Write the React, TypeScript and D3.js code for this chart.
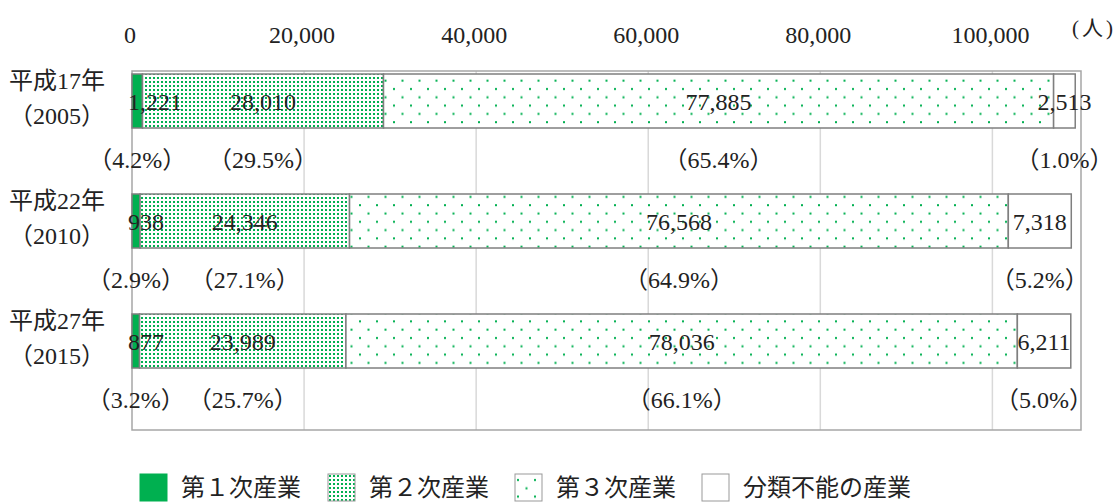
import React, { useRef, useEffect } from 'react';
import * as d3 from 'd3';

const eras = ['平成17年', '平成22年', '平成27年'];
const years = ['（2005）', '（2010）', '（2015）'];
const primary = [1221, 938, 877];
const secondary = [28010, 24346, 23989];
const tertiary = [77885, 76568, 78036];
const unclassified = [2513, 7318, 6211];
const shares = [
  ['4.2%', '29.5%', '65.4%', '1.0%'],
  ['2.9%', '27.1%', '64.9%', '5.2%'],
  ['3.2%', '25.7%', '66.1%', '5.0%'],
];
const xTicks = [0, 20000, 40000, 60000, 80000, 100000];
const legendNames = ['第１次産業', '第２次産業', '第３次産業', '分類不能の産業'];

const W = 1117;
const H = 502;
const GREEN = '#00b050';
const FONT = '"Liberation Serif", "DejaVu Serif", "Noto Sans CJK JP", serif';
const INK = '#222';

const App = () => {
  const ref = useRef<SVGSVGElement>(null);

  useEffect(() => {
    const svg = d3.select(ref.current);
    svg.selectAll('*').remove();

    const left = 132, right = 1081, top = 71, bottom = 430;
    const barH = 54;

    const x = d3.scaleLinear().domain([0, 110300]).range([left, right]);
    // one 120px step per year, bar sits 33px into its step
    const y = d3.scaleBand().domain(eras).range([41, 401]).padding(0);

    const defs = svg.append('defs');
    const p2 = defs.append('pattern').attr('id', 'dense').attr('patternUnits', 'userSpaceOnUse')
      .attr('width', 4).attr('height', 4);
    p2.append('rect').attr('width', 4).attr('height', 4).attr('fill', '#fff');
    p2.append('rect').attr('x', 1).attr('y', 1).attr('width', 2).attr('height', 2).attr('fill', GREEN);

    const p3 = defs.append('pattern').attr('id', 'sparse').attr('patternUnits', 'userSpaceOnUse')
      .attr('width', 17).attr('height', 16.6);
    p3.append('rect').attr('width', 17).attr('height', 16.6).attr('fill', '#fff');
    p3.append('rect').attr('x', 2).attr('y', 5).attr('width', 2).attr('height', 2).attr('fill', GREEN);
    p3.append('rect').attr('x', 10.5).attr('y', 13.3).attr('width', 2).attr('height', 2).attr('fill', GREEN);

    const fills = [GREEN, 'url(#dense)', 'url(#sparse)', '#fff'];

    // grid
    svg.append('g').selectAll('line').data(xTicks.slice(1)).enter().append('line')
      .attr('x1', d => x(d)).attr('x2', d => x(d)).attr('y1', top).attr('y2', bottom)
      .attr('stroke', '#d9d9d9').attr('stroke-width', 1.5);

    svg.append('rect').attr('x', left).attr('y', top).attr('width', right - left).attr('height', bottom - top)
      .attr('fill', 'none').attr('stroke', '#a6a6a6').attr('stroke-width', 1.5);

    // top tick labels
    svg.append('g').selectAll('text').data(xTicks).enter().append('text')
      .attr('x', d => x(d) - 2).attr('y', 43).attr('text-anchor', 'middle')
      .attr('font-family', FONT).attr('font-size', 24).attr('fill', INK)
      .text(d => d3.format(',')(d));
    svg.append('text').attr('x', 1072).attr('y', 35)
      .attr('font-family', FONT).attr('font-size', 21).attr('letter-spacing', 3).attr('fill', INK).text('(人)');

    const rows = eras.map((e, i) => {
      const vals = [primary[i], secondary[i], tertiary[i], unclassified[i]];
      let acc = 0;
      const segs = vals.map((v, k) => {
        const s = { k, x0: acc, x1: acc + v, v };
        acc += v;
        return s;
      });
      return { e, i, segs };
    });

    const g = svg.append('g').selectAll('g').data(rows).enter().append('g');

    g.each(function (r) {
      const gg = d3.select(this);
      const y0 = (y(r.e) as number) + 33;
      const cy = y0 + barH / 2;

      gg.selectAll('rect').data(r.segs).enter().append('rect')
        .attr('x', d => x(d.x0)).attr('y', y0).attr('width', d => x(d.x1) - x(d.x0)).attr('height', barH)
        .attr('fill', d => fills[d.k]).attr('stroke', '#7f7f7f').attr('stroke-width', 1.5);

      gg.selectAll('text.val').data(r.segs).enter().append('text').attr('class', 'val')
        .attr('x', d => (d.k === 0 ? x(0) - 4 : (x(d.x0) + x(d.x1)) / 2))
        .attr('y', cy + 9)
        .attr('text-anchor', d => (d.k === 0 ? 'start' : 'middle'))
        .attr('font-family', FONT).attr('font-size', 24).attr('fill', INK)
        .text(d => d3.format(',')(d.v));

      gg.selectAll('text.pct').data(r.segs).enter().append('text').attr('class', 'pct')
        .attr('x', d => (x(d.x0) + x(d.x1)) / 2)
        .attr('y', cy + 67)
        .attr('text-anchor', 'middle')
        .attr('font-family', FONT).attr('font-size', 24).attr('fill', INK)
        .text(d => `（${shares[r.i][d.k]}）`);

      gg.append('text').attr('x', 57).attr('y', cy - 12).attr('text-anchor', 'middle')
        .attr('font-family', FONT).attr('font-size', 24).attr('fill', INK).text(r.e);
      gg.append('text').attr('x', 57).attr('y', cy + 23).attr('text-anchor', 'middle')
        .attr('font-family', FONT).attr('font-size', 24).attr('fill', INK).text(years[r.i]);
    });

    // legend
    const legX = [140, 328, 515, 702];
    const lg = svg.append('g').selectAll('g').data(legendNames).enter().append('g')
      .attr('transform', (d, i) => `translate(${legX[i]},474)`);
    lg.append('rect').attr('width', 27).attr('height', 27)
      .attr('fill', (d, i) => fills[i])
      .attr('stroke', (d, i) => (i === 0 ? GREEN : '#999')).attr('stroke-width', 1);
    lg.append('text').attr('x', 41).attr('y', 22)
      .attr('font-family', FONT).attr('font-size', 24).attr('fill', INK).text(d => d);
  }, []);

  return (
    <svg ref={ref} width={W} height={H} style={{ position: 'absolute', left: 0, top: 0, background: '#fff' }} />
  );
};

export default App;
